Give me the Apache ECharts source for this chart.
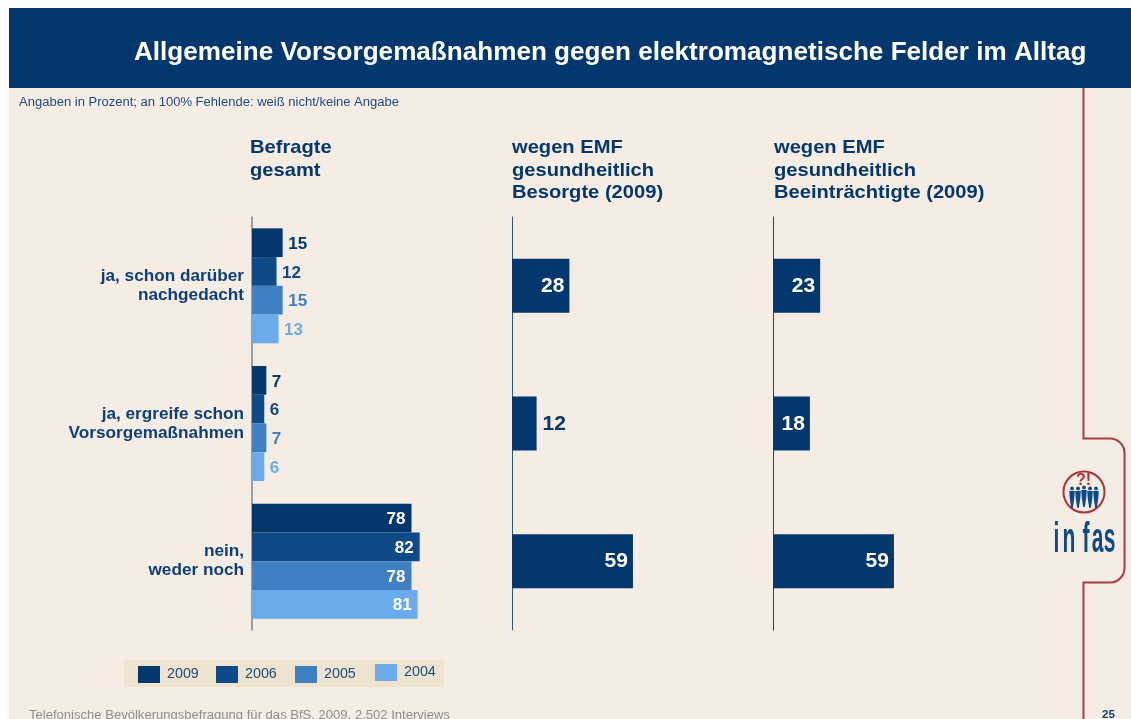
<!DOCTYPE html>
<html><head><meta charset="utf-8">
<style>html,body{margin:0;padding:0;background:#fff}#c{width:1131px;height:719px}</style>
<script src="https://cdn.jsdelivr.net/npm/echarts@6/dist/echarts.min.js"></script>
</head><body><div id="c"></div>
<script>
const categories = ['ja, schon darüber\nnachgedacht', 'ja, ergreife schon\nVorsorgemaßnahmen', 'nein,\nweder noch'];
const years = ['2009', '2006', '2005', '2004'];
const gesamt2009 = [15, 7, 78];
const gesamt2006 = [12, 6, 82];
const gesamt2005 = [15, 7, 78];
const gesamt2004 = [13, 6, 81];
const besorgte2009 = [28, 12, 59];
const beeintraechtigte2009 = [23, 18, 59];
const colors = ['#03376d', '#0f4a88', '#3f80c2', '#6aabec'];
const headers = ['Befragte\ngesamt', 'wegen EMF\ngesundheitlich\nBesorgte (2009)', 'wegen EMF\ngesundheitlich\nBeeinträchtigte (2009)'];
const FONT = '"Liberation Sans", Arial, sans-serif';
const NAVY = '#03376d';

const chart = echarts.init(document.getElementById('c'), null, {renderer: 'canvas'});

function grid(left, width) { return {left, top: 217, width, height: 413, containLabel: false}; }
function xAxis(i) { return {gridIndex: i, type: 'value', min: 0, max: 100, show: false}; }
function yAxis(i, color, withLabels, lineWidth) {
  return {gridIndex: i, type: 'category', inverse: true, data: categories,
    axisLine: {show: true, lineStyle: {color, width: lineWidth}}, axisTick: {show: false},
    splitLine: {show: false},
    axisLabel: {show: withLabels, interval: 0, margin: 8, align: 'right', padding: [4, 0, 0, 0],
      fontFamily: FONT, fontWeight: 'bold', fontSize: 17.2, lineHeight: 19, color: '#0d3f78'}};
}
function dataItems(values, outColor, threshold, insideDist, outsideDist) {
  return values.map(v => ({value: v, label: v >= threshold
    ? {position: 'insideRight', color: '#fff', distance: insideDist}
    : {position: 'right', color: outColor, distance: outsideDist}}));
}
function gesamtSeries(name, values, idx) {
  return {name, type: 'bar', xAxisIndex: 0, yAxisIndex: 0, barWidth: 28.75, barGap: '0%',
    itemStyle: {color: colors[idx]}, silent: true,
    label: {show: true, fontFamily: FONT, fontWeight: 'bold', fontSize: 17, offset: [0, 1.5]},
    data: dataItems(values, colors[idx], 20, 6, 5.5)};
}
function panelSeries(name, values, idx, threshold) {
  return {name, type: 'bar', xAxisIndex: idx, yAxisIndex: idx, barWidth: 54,
    itemStyle: {color: NAVY}, silent: true,
    label: {show: true, fontFamily: FONT, fontWeight: 'bold', fontSize: 21, offset: [0, 0.5]},
    data: dataItems(values, NAVY, threshold, 5, 6)};
}
function legend(year, left, top) {
  return {data: [year], left, top, orient: 'horizontal', itemWidth: 22, itemHeight: 17,
    selectedMode: false, icon: 'rect', padding: 0, itemGap: 0,
    textStyle: {fontFamily: FONT, fontSize: 14.3, color: '#1f4a7c', padding: [5, 0, 0, 2]}};
}
function txt(text, x, y, size, fill, bold, scaleX, lineHeight) {
  return {type: 'text', z: 30, silent: true, x, y, scaleX,
    style: {text, fill, lineHeight, verticalAlign: 'top', align: 'left',
      font: (bold ? 'bold ' : '') + size + 'px "Liberation Sans"'}};
}

const offsets = [-12, -6, 0, 6, 12];
const figures = offsets.map((dx, i) => ({
  type: 'polygon', z: 20, x: 1084 + dx, y: 496 + (i === 2 ? 0 : 1), silent: true,
  shape: {points: [[-2.8, -6], [2.8, -6], [2.2, 2], [0.8, 11], [-0.8, 11], [-2.2, 2]]},
  style: {fill: '#0f4a88'}
}));
const heads = offsets.map((dx, i) => ({
  type: 'circle', z: 20, silent: true, shape: {cx: 1084 + dx, cy: 488 + (i === 2 ? -0.5 : 0.5), r: 1.9},
  style: {fill: '#0f4a88'}
}));
const letters = [['i', 1056.5], ['n', 1069], ['f', 1086], ['a', 1097.5], ['s', 1109.5]].map(([t, cx]) => ({
  type: 'text', z: 20, silent: true, x: cx, y: 540, scaleX: 0.5,
  style: {text: t, font: 'bold 42px "Liberation Sans"', fill: '#0f4a88', align: 'center', verticalAlign: 'middle'}
}));
const bracketStroke = {stroke: '#a83a45', lineWidth: 2, fill: 'none'};

chart.setOption({
  animation: false,
  backgroundColor: '#ffffff',
  legend: [legend('2009', 138, 666), legend('2006', 216, 666), legend('2005', 295, 666), legend('2004', 375, 664)],
  grid: [grid(252, 204.5), grid(512, 205), grid(773, 205)],
  xAxis: [xAxis(0), xAxis(1), xAxis(2)],
  yAxis: [yAxis(0, '#6e87a5', true, 1.5), yAxis(1, '#2a5a8a', false, 1), yAxis(2, '#33414f', false, 1)],
  series: [
    gesamtSeries(years[0], gesamt2009, 0),
    gesamtSeries(years[1], gesamt2006, 1),
    gesamtSeries(years[2], gesamt2005, 2),
    gesamtSeries(years[3], gesamt2004, 3),
    panelSeries('Besorgte 2009', besorgte2009, 1, 20),
    panelSeries('Beeinträchtigte 2009', beeintraechtigte2009, 2, 15)
  ],
  graphic: [
    {type: 'rect', z: -10, silent: true, shape: {x: 9, y: 8, width: 1122, height: 711}, style: {fill: '#f5ede3'}},
    {type: 'rect', z: -9, silent: true, shape: {x: 9, y: 8, width: 1122, height: 80}, style: {fill: NAVY}},
    {type: 'rect', z: -9, silent: true, shape: {x: 124, y: 660, width: 320, height: 27}, style: {fill: '#ede3cf'}},
    {type: 'polyline', z: -8, silent: true, shape: {points: [[1083.5, 88], [1083.5, 438.5], [1110, 438.5]]}, style: bracketStroke},
    {type: 'arc', z: -8, silent: true, shape: {cx: 1110, cy: 453, r: 14.5, startAngle: -Math.PI / 2, endAngle: 0}, style: bracketStroke},
    {type: 'polyline', z: -8, silent: true, shape: {points: [[1124.5, 453], [1124.5, 568]]}, style: bracketStroke},
    {type: 'arc', z: -8, silent: true, shape: {cx: 1110, cy: 568, r: 14.5, startAngle: 0, endAngle: Math.PI / 2}, style: bracketStroke},
    {type: 'polyline', z: -8, silent: true, shape: {points: [[1110, 582.5], [1083.5, 582.5], [1083.5, 719]]}, style: bracketStroke},
    {type: 'circle', z: 20, silent: true, shape: {cx: 1084, cy: 492, r: 20.5}, style: {fill: 'none', stroke: '#a8323a', lineWidth: 2}},
    {type: 'text', z: 20, silent: true, x: 1083.5, y: 481,
      style: {text: '?!', font: 'bold 16px "Liberation Sans"', fill: '#a8323a', align: 'center', verticalAlign: 'middle'}},
    ...figures, ...heads, ...letters,
    txt('Allgemeine Vorsorgemaßnahmen gegen elektromagnetische Felder im Alltag', 134, 39, 25, '#fff', true, 1.044, 28),
    txt('Angaben in Prozent; an 100% Fehlende: weiß nicht/keine Angabe', 19, 96, 12, '#1f4a7c', false, 1.085, 14),
    txt(headers[0], 250, 137, 19, NAVY, true, 1.06, 22.5),
    txt(headers[1], 512, 137, 19, NAVY, true, 1.06, 22.5),
    txt(headers[2], 774, 137, 19, NAVY, true, 1.06, 22.5),
    txt('Telefonische Bevölkerungsbefragung für das BfS, 2009, 2.502 Interviews', 29, 709, 12, '#8f8f8f', false, 1.088, 14),
    txt('25', 1102, 708, 11, '#0f3f78', true, 1.05, 13)
  ]
});
</script></body></html>
